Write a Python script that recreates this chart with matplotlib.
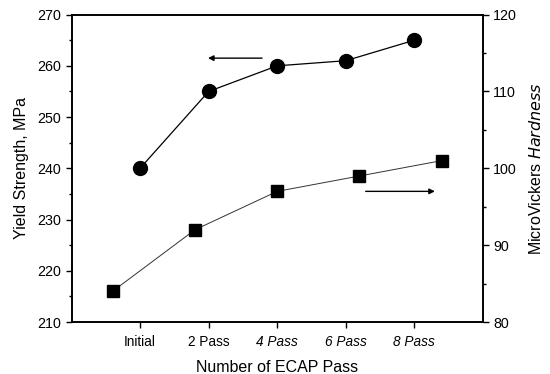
import matplotlib
matplotlib.use("Agg")
import matplotlib.pyplot as plt
from matplotlib.ticker import MultipleLocator

plt.rcParams['font.family'] = ['Liberation Sans', 'DejaVu Sans']

categories = ["Initial", "2 Pass", "4 Pass", "6 Pass", "8 Pass"]
cat_pos = [1, 2, 3, 4, 5]
yield_strength = [240, 255, 260, 261, 265]
hardness_pos = [0.6, 1.8, 3.0, 4.2, 5.4]
hardness = [84, 92, 97, 99, 101]

fig = plt.figure(figsize=(5.5, 3.74), dpi=100)
ax = fig.add_axes([0.130, 0.139, 0.748, 0.822])
ax.plot(cat_pos, yield_strength, color='black', lw=0.9, marker='o', ms=10,
        markerfacecolor='black', markeredgecolor='black')
ax.set_xlim(0, 6)
ax.set_ylim(210, 270)
ax.yaxis.set_major_locator(MultipleLocator(10))
ax.yaxis.set_minor_locator(MultipleLocator(5))
ax.set_xticks(cat_pos)
ax.set_xticklabels(categories)
for lbl in ax.get_xticklabels()[2:]:
    lbl.set_fontstyle('italic')
ax.tick_params(axis='both', which='major', direction='out', length=4, width=1, labelsize=10.3, colors='black')
ax.tick_params(axis='x', labelsize=9.8, pad=5)
ax.tick_params(axis='y', which='minor', direction='out', length=2.5, width=1)
ax.set_ylabel("Yield Strength, MPa", fontsize=11.5, labelpad=6)
ax.set_xlabel("Number of ECAP Pass", fontsize=11.5, labelpad=8)
for s in ax.spines.values():
    s.set_linewidth(1.2)

ax2 = ax.twinx()
ax2.plot(hardness_pos, hardness, color='#333333', lw=0.7, marker='s', ms=9,
         markerfacecolor='black', markeredgecolor='black')
ax2.set_ylim(80, 120)
ax2.yaxis.set_major_locator(MultipleLocator(10))
ax2.yaxis.set_minor_locator(MultipleLocator(5))
ax2.tick_params(axis='y', which='major', direction='out', length=4, width=1, labelsize=10.3)
ax2.tick_params(axis='y', which='minor', direction='out', length=2.5, width=1)
ax2.set_ylabel("MicroVickers $\\it{Hardness}$", fontsize=11.5, labelpad=8)
for s in ax2.spines.values():
    s.set_linewidth(1.2)

# direction arrows
ax.annotate("", xy=(1.95, 261.5), xytext=(2.82, 261.5),
            arrowprops=dict(arrowstyle='-|>', color='black', lw=1.0, mutation_scale=8))
ax.annotate("", xy=(5.34, 235.5), xytext=(4.25, 235.5),
            arrowprops=dict(arrowstyle='-|>', color='black', lw=1.0, mutation_scale=8))

fig.savefig("out.png", dpi=100)
